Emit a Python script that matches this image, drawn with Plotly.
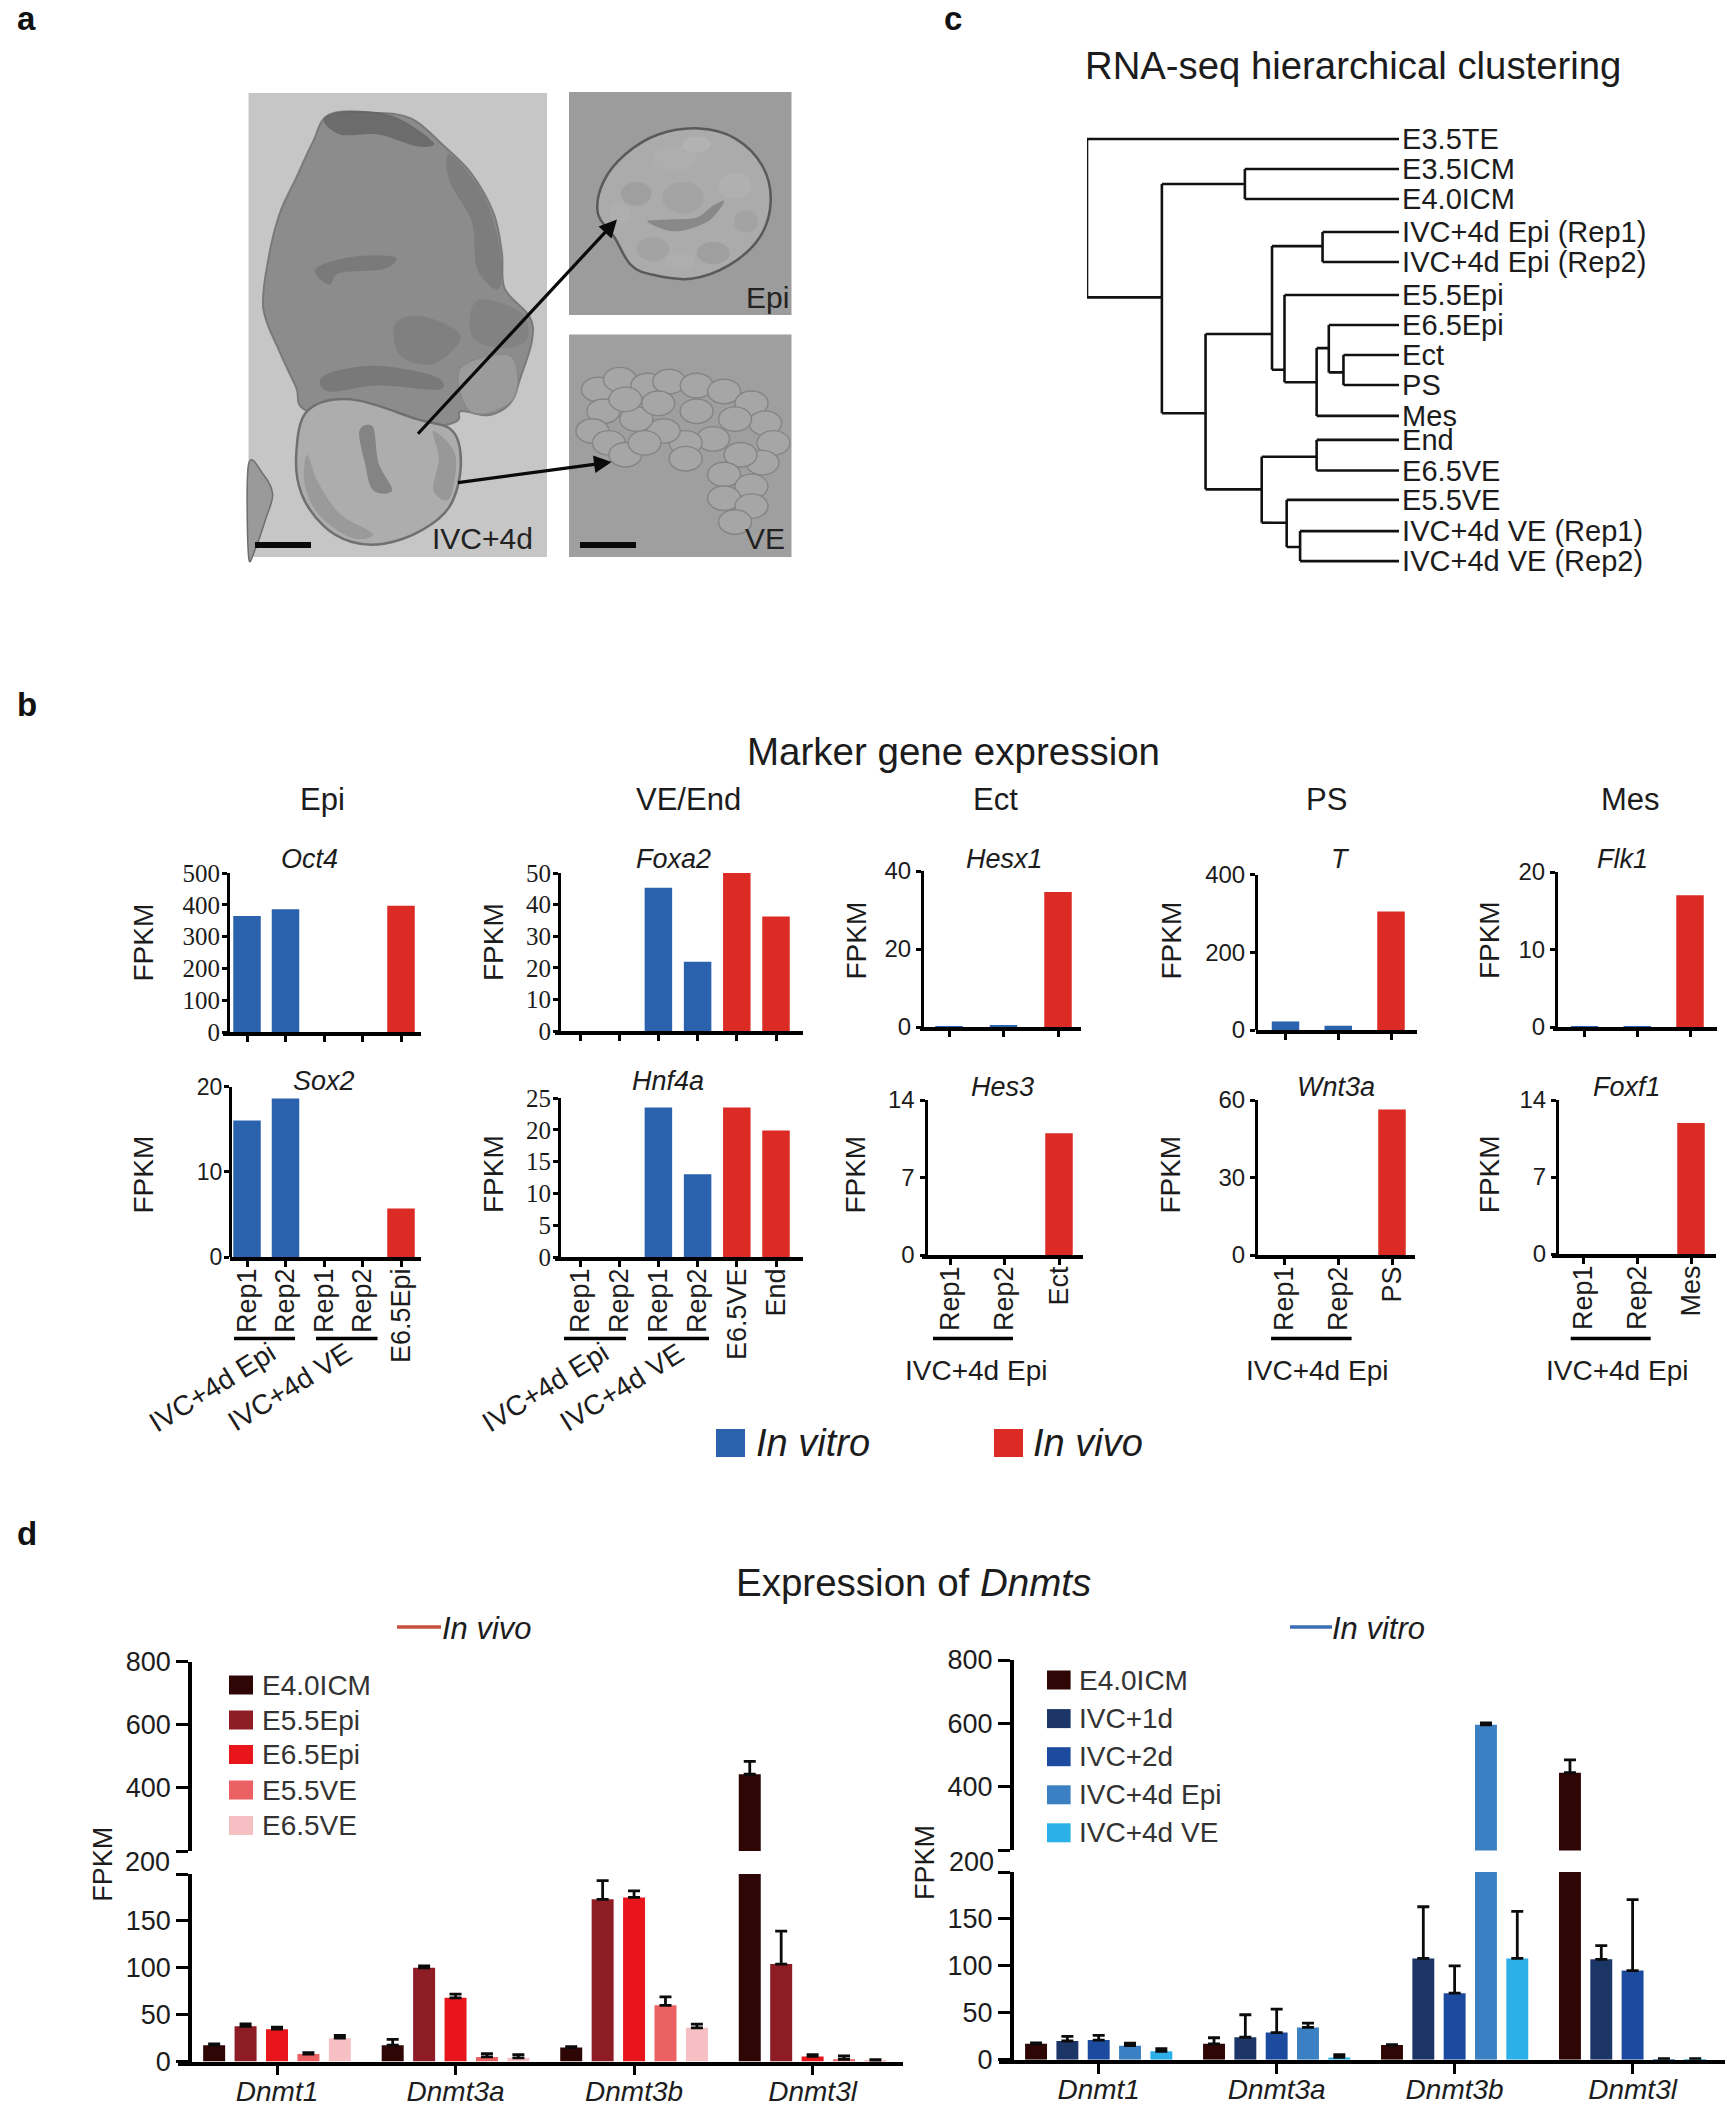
import plotly.graph_objects as go

W, H = 1729, 2114
SANS = "Liberation Sans"
SERIF = "Liberation Serif"
INK = "#1c1c1c"
BLUE = "#2A62AE"
RED = "#DC2A24"

# ---------- panel b data ----------
epi_labels = ["Rep1", "Rep2", "Rep1", "Rep2", "E6.5Epi"]
ve_labels = ["Rep1", "Rep2", "Rep1", "Rep2", "E6.5VE", "End"]
oct4 = [365, 386, 0, 0, 397]
sox2 = [16, 18.6, 0, 0, 5.7]
foxa2 = [0, 0, 45.3, 21.9, 50, 36.2]
hnf4a = [0, 0, 23.5, 13, 23.5, 19.9]
hesx1 = [0.2, 0.4, 34.6]
hes3 = [0, 0, 11]
t_gene = [22, 11, 305]
wnt3a = [0, 0, 56.3]
flk1 = [0.1, 0.1, 17]
foxf1 = [0, 0, 11.9]
kinds_epi = ["vitro", "vitro", "vitro", "vitro", "vivo"]
kinds_ve = ["vitro", "vitro", "vitro", "vitro", "vivo", "vivo"]
kinds_three = ["vitro", "vitro", "vivo"]

# ---------- panel c data ----------
leaf_names = ["E3.5TE", "E3.5ICM", "E4.0ICM", "IVC+4d Epi (Rep1)", "IVC+4d Epi (Rep2)",
              "E5.5Epi", "E6.5Epi", "Ect", "PS", "Mes", "End", "E6.5VE", "E5.5VE",
              "IVC+4d VE (Rep1)", "IVC+4d VE (Rep2)"]
leaf_rank = [0, 1, 2, 3.1, 4.1, 5.2, 6.2, 7.2, 8.2, 9.23, 10.03, 11.05, 12.03, 13.07, 14.07]
# node = (merge height, rank where it joins its parent, child, child); ints are leaves
tree = (100, None, 0,
        (76, 5.28,
         (49.4, 1.5, 1, 2),
         (62, 9.14,
          (40.7, 6.5,
           (24.5, 3.57, 3, 4),
           (36.7, 7.69, 5,
            (26.4, 8.11,
             (22.5, 6.97, 6, (17.8, 7.78, 7, 8)),
             9))),
          (44, 11.68,
           (26.4, 10.59, 10, 11),
           (36, 12.79, 12, (31.7, 13.6, 13, 14))))))

# ---------- panel d data ----------
genes = ["Dnmt1", "Dnmt3a", "Dnmt3b", "Dnmt3l"]
vivo_names = ["E4.0ICM", "E5.5Epi", "E6.5Epi", "E5.5VE", "E6.5VE"]
vivo_values = [[17.5, 17.5, 15, 443], [37.7, 100, 173, 104], [34.6, 68, 175, 5.5],
               [8, 5, 60, 2.5], [25, 4, 36, 1]]
vivo_errors = [[1.5, 6.2, 1, 41], [2.5, 2, 20, 35], [2, 4, 7, 2],
               [1.5, 3.6, 9, 3.5], [3, 3.4, 4, 1]]
vivo_colors = ["#2E0606", "#8E1C24", "#E8151B", "#EC6163", "#F5BFC3"]
vitro_names = ["E4.0ICM", "IVC+1d", "IVC+2d", "IVC+4d Epi", "IVC+4d VE"]
vitro_values = [[17, 17, 15.7, 445], [20, 24, 108, 107], [21, 29, 71, 95],
                [15, 34.5, 596, 0.8], [9, 2.5, 108, 0.8]]
vitro_errors = [[1, 6.5, 0.5, 40], [5, 24, 55, 14.5], [5, 25, 29, 75.5],
                [2.6, 4.5, 6, 0.3], [3, 3, 50, 0.3]]
vitro_colors = ["#2E0606", "#1B3567", "#1C4A9F", "#3A80C2", "#2BB0E8"]

fig = go.Figure()
layout = dict(width=W, height=H, margin=dict(l=0, r=0, t=0, b=0, pad=0, autoexpand=False), autosize=False,
              paper_bgcolor="white", plot_bgcolor="white", showlegend=False,
              barmode="group", bargap=0.12, bargroupgap=0.3, hovermode=False)
shapes, anns = [], []


def fx(x):
    return x / W


def fy(y):
    return 1 - y / H


def text(x, y, s, size, angle=0, anchor="center", family=SANS, color=INK):
    anns.append(dict(x=fx(x), y=fy(y), xref="paper", yref="paper", text=s, showarrow=False,
                     font=dict(family=family, size=size, color=color), textangle=angle,
                     xanchor=anchor, yanchor="middle", borderpad=0, borderwidth=0))


def rect(x0, y0, x1, y1, fill):
    shapes.append(dict(type="rect", xref="paper", yref="paper", x0=fx(x0), x1=fx(x1),
                       y0=fy(y0), y1=fy(y1), fillcolor=fill, line=dict(width=0)))


def line(x0, y0, x1, y1, color="black", width=3.5):
    shapes.append(dict(type="line", xref="paper", yref="paper", x0=fx(x0), x1=fx(x1),
                       y0=fy(y0), y1=fy(y1), line=dict(color=color, width=width)))


axis_no = [0]


def next_axes():
    axis_no[0] += 1
    n = axis_no[0]
    return ("x%d" % n, "y%d" % n, "xaxis%d" % n, "yaxis%d" % n)


def bar_panel(values, kinds, labels, yticks, box, family=SANS, ysize=24, ystand=0):
    """box: x-axis start/end, y-axis x, top px, bottom px, first and last tick px."""
    x0, x1, yx, ytop, ybot, t0, t1 = box
    n = len(values)
    step = (t1 - t0) / (n - 1)
    xid, yid, xkey, ykey = next_axes()
    fig.add_trace(go.Bar(x=list(range(n)), y=values, width=27.5 / step,
                         marker=dict(color=[BLUE if k == "vitro" else RED for k in kinds],
                                     line=dict(width=0)),
                         xaxis=xid, yaxis=yid))
    layout[xkey] = dict(domain=[fx(x0), fx(x1)], range=[(x0 - t0) / step, (x1 - t0) / step],
                        anchor=yid, showgrid=False, zeroline=False, showline=True,
                        linecolor="black", linewidth=3.5, ticks="outside", ticklen=6,
                        tickwidth=3, tickcolor="black", tickvals=list(range(n)),
                        ticktext=labels if labels else [""] * n, tickangle=-90,
                        ticklabelstandoff=-9,
                        tickfont=dict(family=SANS, size=27, color=INK))
    layout[ykey] = dict(domain=[fy(ybot), fy(ytop)], range=[yticks[0], yticks[-1]],
                        anchor="free", position=fx(yx), showgrid=False, zeroline=False,
                        showline=True, linecolor="black", linewidth=3, ticks="outside",
                        ticklen=5, tickwidth=2.5, tickcolor="black", tickvals=yticks,
                        ticktext=[str(v) for v in yticks], ticklabelstandoff=ystand,
                        tickfont=dict(family=family, size=ysize, color=INK))


# --- panel b charts
bar_panel(oct4, kinds_epi, None, [0, 100, 200, 300, 400, 500], (223, 420.5, 228, 873, 1032, 247, 401), SERIF, 25, -3)
bar_panel(sox2, kinds_epi, epi_labels, [0, 10, 20], (230, 420.5, 230, 1086.5, 1257, 247, 401), SANS, 23, -3)
bar_panel(foxa2, kinds_ve, None, [0, 10, 20, 30, 40, 50], (554.5, 803, 559, 873, 1031, 580, 776), SERIF, 25, -3)
bar_panel(hnf4a, kinds_ve, ve_labels, [0, 5, 10, 15, 20, 25], (554.5, 803, 559, 1098, 1257, 580, 776), SERIF, 25, -3)
bar_panel(hesx1, kinds_three, None, [0, 20, 40], (920, 1081, 922, 871, 1027, 949, 1058), SANS, 24)
bar_panel(hes3, kinds_three, ["Rep1", "Rep2", "Ect"], [0, 7, 14], (921.5, 1082.6, 925.5, 1100, 1255, 950, 1059), SANS, 24)
bar_panel(t_gene, kinds_three, None, [0, 200, 400], (1256, 1417, 1256, 874.5, 1030, 1285.5, 1391), SANS, 24)
bar_panel(wnt3a, kinds_three, ["Rep1", "Rep2", "PS"], [0, 30, 60], (1255, 1415, 1256, 1100, 1255, 1284, 1392), SANS, 24)
bar_panel(flk1, kinds_three, None, [0, 10, 20], (1553, 1717, 1556, 872, 1027, 1584.6, 1690), SANS, 24)
bar_panel(foxf1, kinds_three, ["Rep1", "Rep2", "Mes"], [0, 7, 14], (1552, 1716, 1557, 1100, 1254, 1583.5, 1691), SANS, 24)

for x, y, s in [(309.6, 859, "Oct4"), (673, 859, "Foxa2"), (323.5, 1081, "Sox2"), (668.4, 1081, "Hnf4a"),
                (1004, 859, "Hesx1"), (1340, 859, "T"), (1622, 859, "Flk1"),
                (1002.6, 1086.6, "Hes3"), (1336, 1086.6, "Wnt3a"), (1627, 1086.6, "Foxf1")]:
    text(x, y, "<i>%s</i>" % s, 27)
for x, s in [(322.5, "Epi"), (688.5, "VE/End"), (995, "Ect"), (1326, "PS"), (1630, "Mes")]:
    text(x, 799, s, 31)
for x, y in [(143, 942.5), (143, 1174.5), (493, 942), (493, 1174), (856, 940.5), (856, 1174.6),
             (1171, 940.5), (1171, 1174.6), (1489.6, 940.5), (1489.6, 1174.6)]:
    text(x, y, "FPKM", 28, angle=-90)
text(953, 751, "Marker gene expression", 38.5)

for x0, x1 in [(234, 295), (316, 377.5), (564, 626), (648, 709), (933, 1013), (1271, 1351.6), (1570.7, 1650.7)]:
    line(x0, 1338.6, x1, 1338.6)
for x, s in [(212, "IVC+4d Epi"), (289, "IVC+4d VE"), (545, "IVC+4d Epi"), (621.5, "IVC+4d VE")]:
    text(x, 1387, s, 28, angle=-32)
for x in (976.5, 1317, 1617):
    text(x, 1370, "IVC+4d Epi", 28)

rect(716, 1429, 745, 1457, BLUE)
text(756, 1443, "<i>In vitro</i>", 38, anchor="left")
rect(994, 1429, 1023, 1457, RED)
text(1033, 1443, "<i>In vivo</i>", 38, anchor="left")


# --- panel c dendrogram
den_x, den_y = [], []


def walk(node, parent_h):
    if isinstance(node, int):
        den_x.extend([parent_h, 0, None])
        den_y.extend([leaf_rank[node], leaf_rank[node], None])
        return leaf_rank[node]
    h, join, a, b = node
    ya = leaf_rank[a] if isinstance(a, int) else a[1]
    yb = leaf_rank[b] if isinstance(b, int) else b[1]
    den_x.extend([h, h, None])
    den_y.extend([ya, yb, None])
    if parent_h is not None:
        den_x.extend([parent_h, h, None])
        den_y.extend([join, join, None])
    walk(a, h)
    walk(b, h)


walk(tree, None)
xid, yid, xkey, ykey = next_axes()
_, yid_text, _, ykey_text = next_axes()
fig.add_trace(go.Scatter(x=den_x, y=den_y, mode="lines", line=dict(color="#111", width=2.6),
                         cliponaxis=False, xaxis=xid, yaxis=yid))
fig.add_trace(go.Scatter(x=[-1] * len(leaf_names), y=leaf_rank, mode="text", text=leaf_names,
                         textposition="middle right", textfont=dict(family=SANS, size=29, color=INK),
                         cliponaxis=False, xaxis=xid, yaxis=yid_text))
# 3.12 px per unit of merge height: 100 sits at x=1087, 0 at x=1399
layout[xkey] = dict(domain=[fx(1087), fx(1405.24)], range=[100, -2], visible=False, anchor=yid)
layout[ykey] = dict(domain=[fy(589), fy(109)], range=[15, -1], visible=False, anchor=xid)
# overlaid axis: the leaf names sit a few pixels lower than their branches, as in the reference
layout[ykey_text] = dict(overlaying=yid, range=[14.9, -1.1], visible=False, anchor=xid)
text(1353, 65, "RNA-seq hierarchical clustering", 38.3)


# --- panel d charts
def dnmt_chart(names, values, errors, colors, box):
    x0, x1, yx, y800, y200u, y200l, y0, t0, t1 = box
    step = (t1 - t0) / 3
    xid, ylow, xkey, lowkey = next_axes()
    _, yup, _, upkey = next_axes()
    for nm, v, e, c in zip(names, values, errors, colors):
        for yax in (ylow, yup):
            fig.add_trace(go.Bar(x=genes, y=v, name=nm, marker=dict(color=c, line=dict(width=0)),
                                 error_y=dict(type="data", symmetric=False, array=e,
                                              arrayminus=[0] * len(e), color="#0b0b0b",
                                              thickness=2.8, width=6),
                                 xaxis=xid, yaxis=yax))
    layout[xkey] = dict(domain=[fx(x0), fx(x1)], range=[(x0 - t0) / step, (x1 - t0) / step],
                        type="category", categoryorder="array", categoryarray=genes,
                        anchor=ylow, showgrid=False, zeroline=False, showline=True,
                        linecolor="black", linewidth=3.5, ticks="outside", ticklen=10,
                        tickwidth=2.8, tickcolor="black", tickvals=genes,
                        ticktext=["<i>%s</i>" % g for g in genes], ticklabelstandoff=-8,
                        tickfont=dict(family=SANS, size=28, color=INK))
    lowt = [0, 50, 100, 150, 200]
    layout[lowkey] = dict(domain=[fy(y0), fy(y200l)], range=[0, 200], anchor="free",
                          position=fx(yx), showgrid=False, zeroline=False, showline=True,
                          linecolor="black", linewidth=3.5, ticks="outside", ticklen=12,
                          tickwidth=3, tickcolor="black", tickvals=lowt,
                          ticktext=["0", "50", "100", "150", ""],
                          tickfont=dict(family=SANS, size=27, color=INK))
    upt = [200, 400, 600, 800]
    layout[upkey] = dict(domain=[fy(y200u), fy(y800)], range=[200, 800], anchor="free",
                         position=fx(yx), showgrid=False, zeroline=False, showline=True,
                         linecolor="black", linewidth=3.5, ticks="outside", ticklen=12,
                         tickwidth=3, tickcolor="black", tickvals=upt,
                         ticktext=["", "400", "600", "800"],
                         tickfont=dict(family=SANS, size=27, color=INK))


dnmt_chart(vivo_names, vivo_values, vivo_errors, vivo_colors,
           (178, 903, 190, 1661.5, 1851, 1874, 2061.6, 277, 812.6))
dnmt_chart(vitro_names, vitro_values, vitro_errors, vitro_colors,
           (999, 1724.6, 1011.6, 1660, 1850.4, 1872, 2059.8, 1098.7, 1632.6))

text(147.8, 1862, "200", 27)
text(971, 1862, "200", 27)
text(103, 1864.7, "FPKM", 27, angle=-90)
text(925, 1862, "FPKM", 27, angle=-90)
text(913, 1582, "Expression of <i>Dnmts</i>", 38.5)
line(397, 1627, 441, 1627, "#C8503F", 3.5)
text(442, 1628, "<i>In vivo</i>", 31, anchor="left")
line(1290, 1627, 1332, 1627, "#3B6FB5", 3.5)
text(1332, 1628, "<i>In vitro</i>", 31, anchor="left")

for nm, c, y in zip(vivo_names, vivo_colors, (1685, 1720, 1754.5, 1790, 1825.5)):
    rect(229, y - 9.5, 253, y + 9.5, c)
    text(262, y, nm, 28, anchor="left", color="#333")
for nm, c, y in zip(vitro_names, vitro_colors, (1680, 1718.6, 1756.7, 1794.8, 1832.8)):
    rect(1047, y - 9.5, 1070.6, y + 9.5, c)
    text(1079, y, nm, 28, anchor="left", color="#333")

# --- panel letters
for x, y, s in [(26, 19, "a"), (27, 704, "b"), (953, 19, "c"), (27, 1533, "d")]:
    text(x, y, "<b>%s</b>" % s, 33, color="#111")


# --- panel a: drawn stand-in for the micrographs (outline coordinates of the sketch)
SX, SY = 1.823, 2.529


def smooth_path(points):
    pts = [(fx(px / SX), fy(py / SY)) for px, py in points]
    n = len(pts)
    d = "M %.5f %.5f " % pts[0]
    for i in range(n):
        p0, p1, p2, p3 = pts[i - 1], pts[i], pts[(i + 1) % n], pts[(i + 2) % n]
        c1 = (p1[0] + (p2[0] - p0[0]) / 6, p1[1] + (p2[1] - p0[1]) / 6)
        c2 = (p2[0] - (p3[0] - p1[0]) / 6, p2[1] - (p3[1] - p1[1]) / 6)
        d += "C %.5f %.5f %.5f %.5f %.5f %.5f " % (c1[0], c1[1], c2[0], c2[1], p2[0], p2[1])
    return d + "Z"


def blob(points, fill, edge=None, width=1.5, opacity=1.0):
    shapes.append(dict(type="path", xref="paper", yref="paper", path=smooth_path(points),
                       fillcolor=fill, opacity=opacity,
                       line=dict(color=edge if edge else fill, width=width if edge else 0)))


def ell(cx, cy, rx, ry, fill, edge=None, width=1.2, opacity=1.0):
    shapes.append(dict(type="circle", xref="paper", yref="paper",
                       x0=fx((cx - rx) / SX), x1=fx((cx + rx) / SX),
                       y0=fy((cy - ry) / SY), y1=fy((cy + ry) / SY),
                       fillcolor=fill, opacity=opacity,
                       line=dict(color=edge if edge else fill, width=width if edge else 0)))


rect(248.5, 93, 547, 557, "#C6C6C6")
rect(569, 92, 791.5, 315, "#9C9C9C")
rect(569, 334.5, 791.5, 557, "#9F9F9F")

blob([(453, 1175), (480, 1200), (497, 1250), (485, 1310), (465, 1390), (453, 1405)], "#9A9A9A", "#6E6E6E")
blob([(600, 290), (680, 285), (750, 300), (810, 370), (860, 440), (900, 540), (915, 640), (920, 730),
      (965, 800), (970, 860), (950, 950), (930, 1020), (890, 1050), (840, 1040), (825, 1070), (700, 1100),
      (560, 1040), (540, 980), (510, 890), (480, 780), (490, 650), (510, 540), (540, 450), (570, 360)],
     "#8C8C8C", "#7A7A7A", 2)
blob([(590, 300), (640, 280), (720, 295), (790, 360), (760, 370), (690, 340), (620, 340)], "#5E5E5E", None, opacity=0.7)
blob([(820, 390), (880, 490), (910, 620), (910, 730), (870, 680), (860, 560), (820, 460)], "#6B6B6B", None, opacity=0.45)
blob([(575, 680), (640, 650), (720, 650), (700, 680), (620, 690), (600, 720)], "#6C6C6C", None, opacity=0.55)
blob([(590, 950), (680, 925), (790, 950), (800, 985), (690, 975), (600, 990)], "#6A6A6A", None, opacity=0.55)
blob([(720, 820), (770, 800), (840, 850), (790, 920), (730, 900)], "#727272", None, opacity=0.45)
blob([(870, 760), (950, 790), (960, 860), (910, 880), (860, 850)], "#757575", None, opacity=0.45)
blob([(840, 930), (930, 900), (940, 1000), (890, 1045), (850, 1030)], "#A2A2A2", "#8A8A8A", 1.5, opacity=0.7)
blob([(560, 1040), (640, 1010), (760, 1060), (825, 1090), (840, 1180), (820, 1280), (770, 1340),
      (700, 1375), (640, 1370), (590, 1330), (550, 1250), (540, 1150)], "#ADADAD", "#707070", 2.5)
blob([(655, 1090), (680, 1080), (690, 1170), (715, 1240), (680, 1240), (665, 1170)], "#6E6E6E", None, opacity=0.65)
blob([(560, 1150), (580, 1220), (620, 1300), (680, 1350), (640, 1360), (580, 1300), (555, 1220)], "#8A8A8A", None, opacity=0.55)
blob([(790, 1090), (830, 1150), (820, 1260), (790, 1240), (800, 1160)], "#878787", None, opacity=0.55)

blob([(1275, 325), (1340, 350), (1390, 420), (1405, 510), (1385, 600), (1330, 670), (1260, 705),
      (1190, 695), (1150, 670), (1120, 600), (1090, 540), (1100, 460), (1140, 390), (1200, 340)],
     "#ABABAB", "#5A5A5A", 2.5)
for cx, cy, rx, ry, c in [(1160, 490, 28, 30, "#8F8F8F"), (1340, 470, 30, 34, "#B9B9B9"), (1230, 400, 40, 34, "#B5B5B5"),
                          (1300, 640, 30, 28, "#8E8E8E"), (1190, 630, 30, 30, "#989898"), (1130, 540, 20, 26, "#B5B5B5"),
                          (1360, 560, 22, 28, "#989898"), (1240, 660, 26, 22, "#B5B5B5"), (1270, 365, 26, 20, "#BDBDBD")]:
    ell(cx, cy, rx, ry, c, opacity=0.4)
blob([(1180, 560), (1230, 585), (1290, 560), (1320, 510), (1300, 520), (1270, 550), (1220, 555)], "#7A7A7A", None, opacity=0.7)
ell(1245, 500, 38, 40, "#9A9A9A", opacity=0.4)

for cx, cy in [(1090, 985), (1130, 960), (1180, 975), (1220, 965), (1270, 975), (1320, 990), (1370, 1020),
               (1395, 1070), (1410, 1120), (1390, 1170), (1350, 1150), (1300, 1110), (1250, 1120), (1250, 1160),
               (1210, 1090), (1160, 1060), (1100, 1040), (1080, 1090), (1110, 1120), (1140, 1150), (1175, 1120),
               (1340, 1060), (1270, 1040), (1200, 1020), (1140, 1010), (1320, 1200), (1370, 1230), (1320, 1260),
               (1370, 1280), (1340, 1320)]:
    ell(cx, cy, 30, 31, "#A6A6A6", "#858585", 1.4)

rect(255, 542, 311, 548, "#0a0a0a")
rect(580, 542, 636, 548, "#0a0a0a")
text(482.7, 538.5, "IVC+4d", 30, color="#222")
text(767, 297, "Epi", 30, color="#222")
text(765, 538.5, "VE", 30, color="#222")
for tail, tip in [((415, 437), (617, 219.5)), ((455, 483), (611.6, 462))]:
    anns.append(dict(x=fx(tip[0]), y=fy(tip[1]), xref="paper", yref="paper", text=" ",
                     showarrow=True, arrowhead=2, arrowsize=1.1, arrowwidth=3.2, arrowcolor="#0a0a0a",
                     ax=tail[0] - tip[0], ay=tail[1] - tip[1], axref="pixel", ayref="pixel"))

layout["shapes"] = shapes
layout["annotations"] = anns
fig.update_layout(**layout)
fig.write_html("out.html", config={"displayModeBar": False},
               post_script="document.body.style.margin='0';")
